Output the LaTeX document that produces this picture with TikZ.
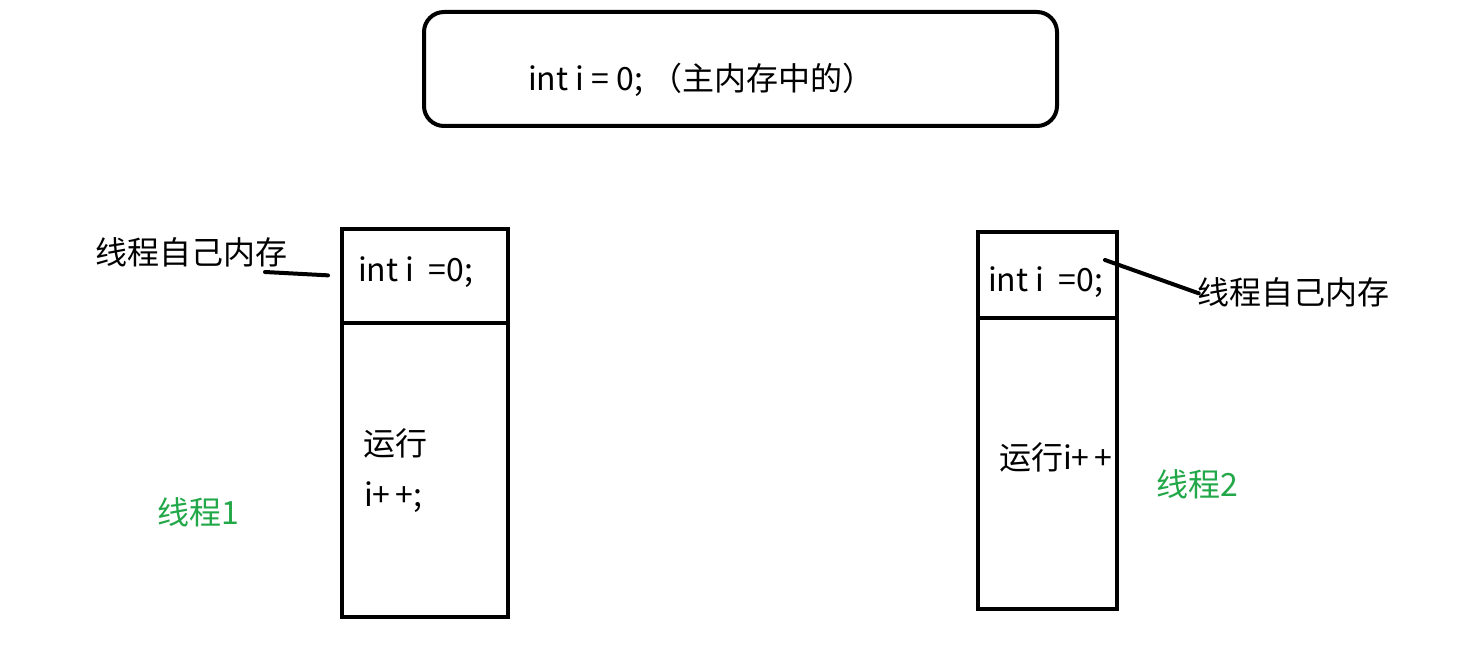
\documentclass[tikz,border=0pt]{standalone}
\usepackage{fontspec}
\setmainfont{Noto Sans CJK SC}
\usepackage{tikz}
\definecolor{threadgreen}{RGB}{34,168,72}

\begin{document}
\begin{tikzpicture}[x=0.75pt, y=-0.75pt, every node/.style={inner sep=0pt, font=\fontsize{24}{28}\selectfont}, every path/.style={draw=black, line width=3pt}, cell/.style={rectangle, draw=black, line width=3pt}]
			\useasboundingbox[draw=none, fill=white] (0,0) rectangle (1467,652);
			\node[cell, rounded corners=15pt, minimum width=474.75pt, minimum height=85.5pt] (main) at (740.5,69){};
			\node[anchor=west] (maintext) at (526,80){int i = 0;\ （主内存中的）};
			
			\node[cell, minimum width=124.5pt, minimum height=70.5pt] (top1) at (425,276){};
			\node[cell, minimum width=124.5pt, minimum height=220.5pt] (run1) at (425,470){};
			\node[cell, minimum width=104.25pt, minimum height=64.5pt] (top2) at (1047.5,275){};
			\node[cell, minimum width=104.25pt, minimum height=218.25pt] (run2) at (1047.5,463.5){};
			
			\node[anchor=west] (var1) at (356,272){int i\ \ =0;};
			\node[anchor=west] (step1a) at (361,443){运行};
			\node[anchor=west] (step1b) at (362,497){i+\,+;};
			\node[anchor=west] (var2) at (986,282){int i\ \ =0;};
			\node[anchor=west] (step2) at (997,457){运行i+\,+};
			
			\node[anchor=west] (mem1) at (93,252){线程自己内存};
			\node[anchor=west] (mem2) at (1195,292){线程自己内存};
			\node[anchor=west, text=threadgreen] (name1) at (155,512){线程1};
			\node[anchor=west, text=threadgreen] (name2) at (1154,484){线程2};
			
			\coordinate (m1) at (265,272);
			\coordinate (m2) at (1105,260);
			\path[line cap=round] (m1) edge[shorten >=9pt] (top1.west);
			\path[line cap=round] (m2) edge[shorten >=-3pt] (mem2.west);
			\end{tikzpicture}
\end{document}
